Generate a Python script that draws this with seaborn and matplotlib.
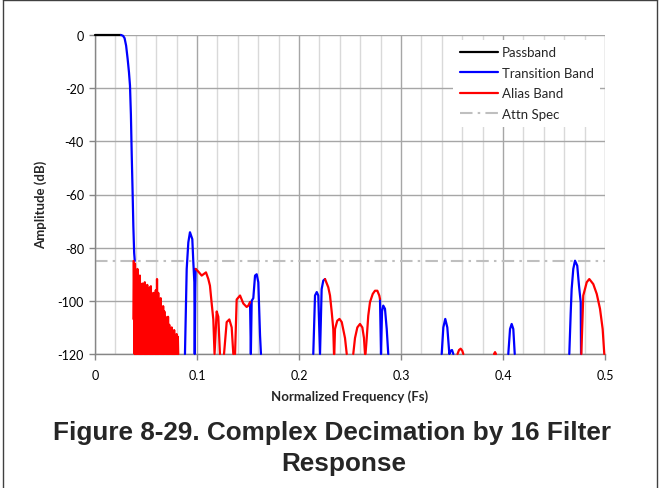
import matplotlib.pyplot as plt
import numpy as np
import pandas as pd
import seaborn as sns
from matplotlib.lines import Line2D

# Tick values / labels
X_TICKS = [0, 0.1, 0.2, 0.3, 0.4, 0.5]
X_TICK_LABELS = ["0", "0.1", "0.2", "0.3", "0.4", "0.5"]
Y_TICKS = [0, -20, -40, -60, -80, -100, -120]
Y_TICK_LABELS = ["0", "-20", "-40", "-60", "-80", "-100", "-120"]
ATTN_SPEC = -85

BANDS = ["Passband", "Transition Band", "Alias Band"]

# Filter response, split into coloured pieces
PASS_F = [0.0, 0.0258]
PASS_DB = [0, 0]

TRANS_F = [0.0255, 0.0275, 0.0290, 0.0305, 0.0320, 0.0333, 0.0343, 0.0352,
           0.0360, 0.0368, 0.0376, 0.0384, 0.0390]
TRANS_DB = [0, -0.3, -1.2, -4, -9, -14, -19, -30, -45, -58, -72, -82, -85]

ALIAS1_F = [0.0378, 0.0380, 0.0385, 0.0388,
            0.0392, 0.0398, 0.0404, 0.0410, 0.0416, 0.0422, 0.0428, 0.0434,
            0.0440, 0.0446, 0.0452, 0.0458, 0.0464, 0.0470, 0.0476, 0.0482,
            0.0488, 0.0494, 0.0500, 0.0506, 0.0512, 0.0518, 0.0524, 0.0530,
            0.0536, 0.0542, 0.0548, 0.0554, 0.0560, 0.0566, 0.0572, 0.0578,
            0.0584, 0.0590, 0.0596, 0.0602, 0.0608, 0.0614, 0.0620, 0.0626,
            0.0632, 0.0638, 0.0644, 0.0650, 0.0656, 0.0662, 0.0668, 0.0674,
            0.0680, 0.0686, 0.0692, 0.0698, 0.0704, 0.0710, 0.0716, 0.0722,
            0.0728, 0.0734, 0.0740, 0.0746, 0.0752, 0.0758, 0.0764, 0.0770,
            0.0776, 0.0782, 0.0788, 0.0794, 0.0800, 0.0806, 0.0812, 0.0816]
ALIAS1_DB = [-85, -107, -86, -120,
             -86, -120, -90, -120, -88, -120, -92, -120,
             -90.5, -120, -95, -120, -93.5, -120, -97, -120,
             -93, -120, -96, -120, -94, -120, -98, -120,
             -95, -120, -94.5, -120, -99, -120, -97, -120,
             -101, -120, -96, -120, -91.8, -120, -97, -120,
             -100, -120, -99, -120, -103, -120, -102, -120,
             -104, -120, -106, -120, -107, -120, -106, -120,
             -109, -120, -111, -120, -110, -120, -112, -120,
             -111, -120, -113, -120, -112.5, -120, -113.5, -120]

TRANS2_F = [0.0882, 0.0899, 0.0915, 0.0931, 0.0954, 0.0964, 0.0974, 0.0978,
            0.0983, 0.0987]
TRANS2_DB = [-120, -88, -78, -74.2, -76.8, -85.5, -93, -120, -95, -88]

ALIAS2_F = [0.0987, 0.1013, 0.1046, 0.1088, 0.1111, 0.1127, 0.1144, 0.1160,
            0.1172, 0.1193, 0.1209, 0.1225]
ALIAS2_DB = [-88, -89, -90.5, -89.3, -91.8, -94.3, -101, -107,
             -120, -104, -106, -120]

ALIAS3_F = [0.1265, 0.1291, 0.1317, 0.1340, 0.1356]
ALIAS3_DB = [-120, -108, -107, -110, -120]

ALIAS4_F = [0.1373, 0.1389, 0.1422, 0.1454, 0.1487, 0.1503, 0.1520]
ALIAS4_DB = [-120, -99.5, -98, -101, -102.3, -101.8, -100.5]

TRANS3_F = [0.1520, 0.1528, 0.1536, 0.1552, 0.1569, 0.1585, 0.1601, 0.1618,
            0.1627]
TRANS3_DB = [-100.5, -120, -100, -99, -90.5, -90, -93, -113, -120]

TRANS4_F = [0.2140, 0.2157, 0.2174, 0.2189, 0.2206, 0.2222, 0.2238, 0.2255]
TRANS4_DB = [-120, -98, -96.7, -98, -120, -95.6, -92.4, -91.8]

ALIAS5_F = [0.2255, 0.2287, 0.2304, 0.2321, 0.2336, 0.2343]
ALIAS5_DB = [-91.8, -94.9, -98, -104.3, -110.6, -120]

ALIAS6_F = [0.2346, 0.2353, 0.2375, 0.2397, 0.2419, 0.2451, 0.2468]
ALIAS6_DB = [-120, -110.6, -107.5, -106.8, -108, -114, -120]

ALIAS7_F = [0.2532, 0.2549, 0.2572, 0.2598, 0.2621, 0.2637, 0.2647]
ALIAS7_DB = [-120, -114, -110, -108.7, -110, -114, -120]

ALIAS8_F = [0.2652, 0.2664, 0.2679, 0.2696, 0.2723, 0.2745, 0.2768, 0.2787,
            0.2794]
ALIAS8_DB = [-120, -114, -105.6, -100.5, -97.4, -96.2, -96.2, -98, -99.3]

TRANS5_F = [0.2794, 0.2804, 0.2814, 0.2826, 0.2843, 0.2860, 0.2875]
TRANS5_DB = [-99.3, -120, -104, -101.8, -103, -110.6, -120]

TRANS6_F = [0.3399, 0.3415, 0.3434, 0.3454, 0.3464, 0.3474, 0.3487, 0.3500,
            0.3513]
TRANS6_DB = [-120, -110, -106.8, -110, -115, -120, -118.8, -118.5, -120]

ALIAS9_F = [0.3554, 0.3569, 0.3585, 0.3601, 0.3611]
ALIAS9_DB = [-120, -118.5, -118, -118.8, -120]

ALIAS10_F = [0.3912, 0.3922, 0.3931]
ALIAS10_DB = [-120, -119.3, -120]

TRANS7_F = [0.4052, 0.4069, 0.4085, 0.4101, 0.4115]
TRANS7_DB = [-120, -110.6, -108.7, -110.6, -120]

TRANS8_F = [0.4650, 0.4664, 0.4673, 0.4689, 0.4706, 0.4728, 0.4745, 0.4762,
            0.4765]
TRANS8_DB = [-120, -104.3, -95.6, -88, -84.9, -86.8, -94.3, -100.6, -120]

ALIAS11_F = [0.4768, 0.4787, 0.4821, 0.4846, 0.4885, 0.4919, 0.4951, 0.4977,
             0.4993]
ALIAS11_DB = [-120, -98, -93, -91.8, -93.7, -97.4, -103, -110.6, -120]

SEGMENTS = [
    ("Passband", PASS_F, PASS_DB),
    ("Transition Band", TRANS_F, TRANS_DB),
    ("Alias Band", ALIAS1_F, ALIAS1_DB),
    ("Transition Band", TRANS2_F, TRANS2_DB),
    ("Alias Band", ALIAS2_F, ALIAS2_DB),
    ("Alias Band", ALIAS3_F, ALIAS3_DB),
    ("Alias Band", ALIAS4_F, ALIAS4_DB),
    ("Transition Band", TRANS3_F, TRANS3_DB),
    ("Transition Band", TRANS4_F, TRANS4_DB),
    ("Alias Band", ALIAS5_F, ALIAS5_DB),
    ("Alias Band", ALIAS6_F, ALIAS6_DB),
    ("Alias Band", ALIAS7_F, ALIAS7_DB),
    ("Alias Band", ALIAS8_F, ALIAS8_DB),
    ("Transition Band", TRANS5_F, TRANS5_DB),
    ("Transition Band", TRANS6_F, TRANS6_DB),
    ("Alias Band", ALIAS9_F, ALIAS9_DB),
    ("Alias Band", ALIAS10_F, ALIAS10_DB),
    ("Transition Band", TRANS7_F, TRANS7_DB),
    ("Transition Band", TRANS8_F, TRANS8_DB),
    ("Alias Band", ALIAS11_F, ALIAS11_DB),
]

COLORS = {"Passband": "#000000", "Transition Band": "#0000ff",
          "Alias Band": "#ff0000"}

rows = []
for i, (band, f, db) in enumerate(SEGMENTS):
    for x, y in zip(f, db):
        rows.append({"freq": x, "db": y, "band": band, "seg": i})
df = pd.DataFrame(rows)

sns.set_theme(style="white")
plt.rcParams["font.family"] = ["Lato", "DejaVu Sans"]

W, H = 665, 489
fig = plt.figure(figsize=(W / 100, H / 100), dpi=100)
ax = fig.add_axes([95 / W, 1 - 355 / H, 510 / W, 319 / H])

ax.axhline(ATTN_SPEC, color="#bfbfbf", lw=1.5, dashes=(6, 2.5, 1.2, 2.5),
           zorder=2)

sns.lineplot(data=df, x="freq", y="db", hue="band", units="seg",
             estimator=None, sort=False, hue_order=BANDS, palette=COLORS,
             linewidth=1.6, legend=False, ax=ax, zorder=3)
for ln in ax.lines:
    ln.set_clip_on(False)

ax.set_xlim(0, 0.5)
ax.set_ylim(-120, 0)
ax.set_xticks(X_TICKS)
ax.set_xticklabels(X_TICK_LABELS)
ax.set_xticks(np.arange(0, 0.501, 0.02), minor=True)
ax.set_yticks(Y_TICKS)
ax.set_yticklabels(Y_TICK_LABELS)

ax.grid(which="major", color="#a6a6a6", lw=1)
ax.grid(which="minor", axis="x", color="#d9d9d9", lw=1)
ax.set_axisbelow(True)

for side in ["top", "right"]:
    ax.spines[side].set_visible(False)
for side in ["left", "bottom"]:
    ax.spines[side].set_color("#868686")
    ax.spines[side].set_linewidth(1)

ax.tick_params(which="major", direction="out", length=4, width=1,
               color="#868686", labelsize=9, labelcolor="black",
               left=True, bottom=True)
ax.tick_params(axis="y", pad=4)
ax.tick_params(axis="x", pad=7)
ax.tick_params(which="minor", length=0)

ax.set_xlabel("Normalized Frequency (Fs)", fontsize=9.5, fontweight="bold")
ax.set_ylabel("Amplitude (dB)", fontsize=9.5, fontweight="bold")
ax.xaxis.set_label_coords(0.5, -(390 - 355) / 319)
ax.yaxis.set_label_coords(-(95 - 47) / 510, 0.47)

handles = [Line2D([], [], color=COLORS[b], lw=1.6) for b in BANDS]
handles.append(Line2D([], [], color="#bfbfbf", lw=1.5,
                      dashes=(6, 2.5, 1.2, 2.5)))
leg = ax.legend(handles, BANDS + ["Attn Spec"], loc="upper right",
                bbox_to_anchor=(1.0, 1.0), fontsize=9.5, frameon=True,
                fancybox=False, framealpha=1, edgecolor="none",
                facecolor="white", handlelength=2.9, handletextpad=0.3,
                labelspacing=0.65, borderpad=0.5, borderaxespad=0.35)
leg.set_zorder(5)

title_font = ["Liberation Sans Narrow", "Liberation Sans", "DejaVu Sans"]
fig.text(332 / W, 1 - 433 / H, "Figure 8-29. Complex Decimation by 16 Filter",
         ha="center", va="center", fontsize=18.8, fontweight="bold",
         family=title_font)
fig.text(344 / W, 1 - 464 / H, "Response", ha="center", va="center",
         fontsize=18.8, fontweight="bold", family=title_font)

# thin frame round the picture
for xs, ys in [([3 / W, 3 / W], [0, 1]), ([3 / W, 657 / W], [1 - 1 / H, 1 - 1 / H]),
               ([657 / W, 657 / W], [0, 1])]:
    fig.add_artist(Line2D(xs, ys, color="#404040", lw=1))

fig.savefig("out.png", dpi=100)
